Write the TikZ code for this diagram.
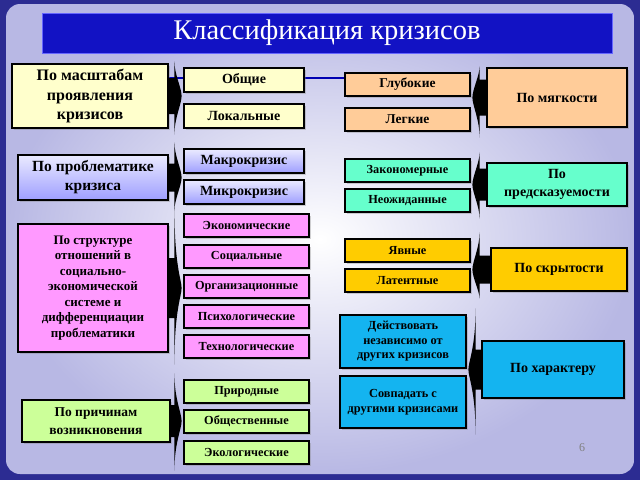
\documentclass[tikz,border=0pt]{standalone}
\usepackage{fontspec}
\setmainfont{Liberation Serif}
\usetikzlibrary{calc,shadows}

\definecolor{slideedge}{HTML}{2C2C92}
\definecolor{slidein}{HTML}{B8B8E4}
\definecolor{titleblue}{HTML}{1212C4}
\definecolor{cyellow}{HTML}{FFFFCC}
\definecolor{cpink}{HTML}{FF99FF}
\definecolor{cgreen}{HTML}{CCFF99}
\definecolor{corange}{HTML}{FFCC99}
\definecolor{caqua}{HTML}{66FFCC}
\definecolor{cgold}{HTML}{FFCC00}
\definecolor{cblue}{HTML}{14B4F0}

\tikzset{
  box/.style={draw=black, line width=1.2pt, inner sep=1pt,
    drop shadow={shadow xshift=1.5pt, shadow yshift=-1.5pt, opacity=0.35}},
  catbox/.style={box, align=center, font=\bfseries\fontsize{14}{18.5}\selectfont},
  itembox/.style={box, minimum width=120pt, minimum height=24pt,
    font=\bfseries\fontsize{14}{16}\selectfont},
  smallbox/.style={box, minimum width=125pt, minimum height=23pt,
    font=\bfseries\fontsize{12.3}{14.5}\selectfont},
  lavender/.style={top color=blue!8, bottom color=blue!38}
}

\newcommand{\crisisbrace}[5]{%
  \fill[black] let \p1=(#1), \p2=(#2), \p3=(#3) in
    (\x1,{\y1+#5}) -- ({\x2-(#4)},{\y1+#5}) -- ({\x2-(#4)},{\y2+6pt})
    .. controls ({\x2-(#4)},{\y1+22pt}) and ({\x2-0.2*(#4)},{\y1+8pt}) .. ({\x2-0.2*(#4)},\y1)
    .. controls ({\x2-0.2*(#4)},{\y1-8pt}) and ({\x2-(#4)},{\y1-22pt}) .. ({\x2-(#4)},{\y3-6pt})
    -- ({\x2-(#4)},{\y1-#5}) -- (\x1,{\y1-#5}) -- cycle;}

\begin{document}
\begin{tikzpicture}[x=1pt, y=-1pt]
    \useasboundingbox (0,0) rectangle (640,480);
    \fill[slideedge] (0,0) rectangle (640,480);
    \shade[inner color=white, outer color=slidein, rounded corners=14pt] (6,4) rectangle (634,474);
    \draw[blue!70!black, line width=2pt] (168,78) -- (346,78);

    \node[fill=titleblue, draw=blue!60, minimum width=570pt, minimum height=40pt,
      text=white, font=\fontsize{28.5}{32}\selectfont] (title) at (327,33) {Классификация кризисов};

    \node[catbox, fill=cyellow, minimum width=156pt, minimum height=64pt,
      font=\bfseries\fontsize{16}{19.5}\selectfont] (mas) at (90,96) {По масштабам\\проявления\\кризисов};
    \node[itembox, fill=cyellow] (obsh) at (244,80) {Общие};
    \node[itembox, fill=cyellow] (lok) at (244,116) {Локальные};

    \node[catbox, lavender, minimum width=150pt, minimum height=45pt,
      font=\bfseries\fontsize{15.5}{19}\selectfont] (probl) at (93,177.5) {По проблематике\\кризиса};
    \node[itembox, lavender] (makro) at (244,161) {Макрокризис};
    \node[itembox, lavender] (mikro) at (244,192) {Микрокризис};

    \node[catbox, fill=cpink, minimum width=150pt, minimum height=128pt,
      font=\bfseries\fontsize{13}{15.5}\selectfont] (struct) at (93,288)
      {По структуре\\отношений в\\социально-\\экономической\\системе и\\дифференциации\\проблематики};
    \node[smallbox, fill=cpink] (ekon) at (246.5,225.5) {Экономические};
    \node[smallbox, fill=cpink] (soc) at (246.5,256.5) {Социальные};
    \node[smallbox, fill=cpink] (org) at (246.5,286.5) {Организационные};
    \node[smallbox, fill=cpink] (psih) at (246.5,316.5) {Психологические};
    \node[smallbox, fill=cpink] (tehn) at (246.5,346.5) {Технологические};

    \node[catbox, fill=cgreen, minimum width=148pt, minimum height=42pt,
      font=\bfseries\fontsize{13.5}{18.5}\selectfont] (prich) at (96,421) {По причинам\\возникновения};
    \node[smallbox, fill=cgreen] (prir) at (246.5,391.5) {Природные};
    \node[smallbox, fill=cgreen] (obshch) at (246.5,421.5) {Общественные};
    \node[smallbox, fill=cgreen] (ekol) at (246.5,452.5) {Экологические};

    \node[catbox, fill=corange, minimum width=140pt, minimum height=59pt] (myag) at (557,97.5) {По мягкости};
    \node[smallbox, fill=corange, font=\bfseries\fontsize{13.5}{15}\selectfont] (glub) at (407.5,84.5) {Глубокие};
    \node[smallbox, fill=corange, font=\bfseries\fontsize{13.5}{15}\selectfont] (legk) at (407.5,119.5) {Легкие};

    \node[catbox, fill=caqua, minimum width=140pt, minimum height=43pt] (predsk) at (557,184.5) {По\\предсказуемости};
    \node[smallbox, fill=caqua] (zakon) at (407.5,170.5) {Закономерные};
    \node[smallbox, fill=caqua] (neozh) at (407.5,200.5) {Неожиданные};

    \node[catbox, fill=cgold, minimum width=136pt, minimum height=43pt] (skryt) at (559,269.5) {По скрытости};
    \node[smallbox, fill=cgold] (yavn) at (407.5,250.5) {Явные};
    \node[smallbox, fill=cgold] (latent) at (407.5,280.5) {Латентные};

    \node[catbox, fill=cblue, minimum width=142pt, minimum height=57pt] (harakt) at (553,369.5) {По характеру};
    \node[smallbox, fill=cblue, align=center, minimum width=126pt, minimum height=53pt] (dejstv) at (403,341.5) {Действовать\\независимо от\\других кризисов};
    \node[smallbox, fill=cblue, align=center, minimum width=126pt, minimum height=52pt] (sovp) at (403,402) {Совпадать с\\другими кризисами};

    \crisisbrace{mas.east}{obsh.north west}{lok.south west}{9pt}{18pt}
    \crisisbrace{probl.east}{makro.north west}{mikro.south west}{9pt}{14pt}
    \crisisbrace{struct.east}{ekon.north west}{tehn.south west}{9pt}{30pt}
    \crisisbrace{prich.east}{prir.north west}{ekol.south west}{9pt}{16pt}
    \crisisbrace{myag.west}{glub.north east}{legk.south east}{-9pt}{18pt}
    \crisisbrace{predsk.west}{zakon.north east}{neozh.south east}{-9pt}{16pt}
    \crisisbrace{skryt.west}{yavn.north east}{latent.south east}{-9pt}{14pt}
    \crisisbrace{harakt.west}{dejstv.north east}{sovp.south east}{-9pt}{20pt}

    \node[text=gray, font=\fontsize{12}{14}\selectfont] (pagenum) at (582,448) {6};
\end{tikzpicture}
\end{document}
